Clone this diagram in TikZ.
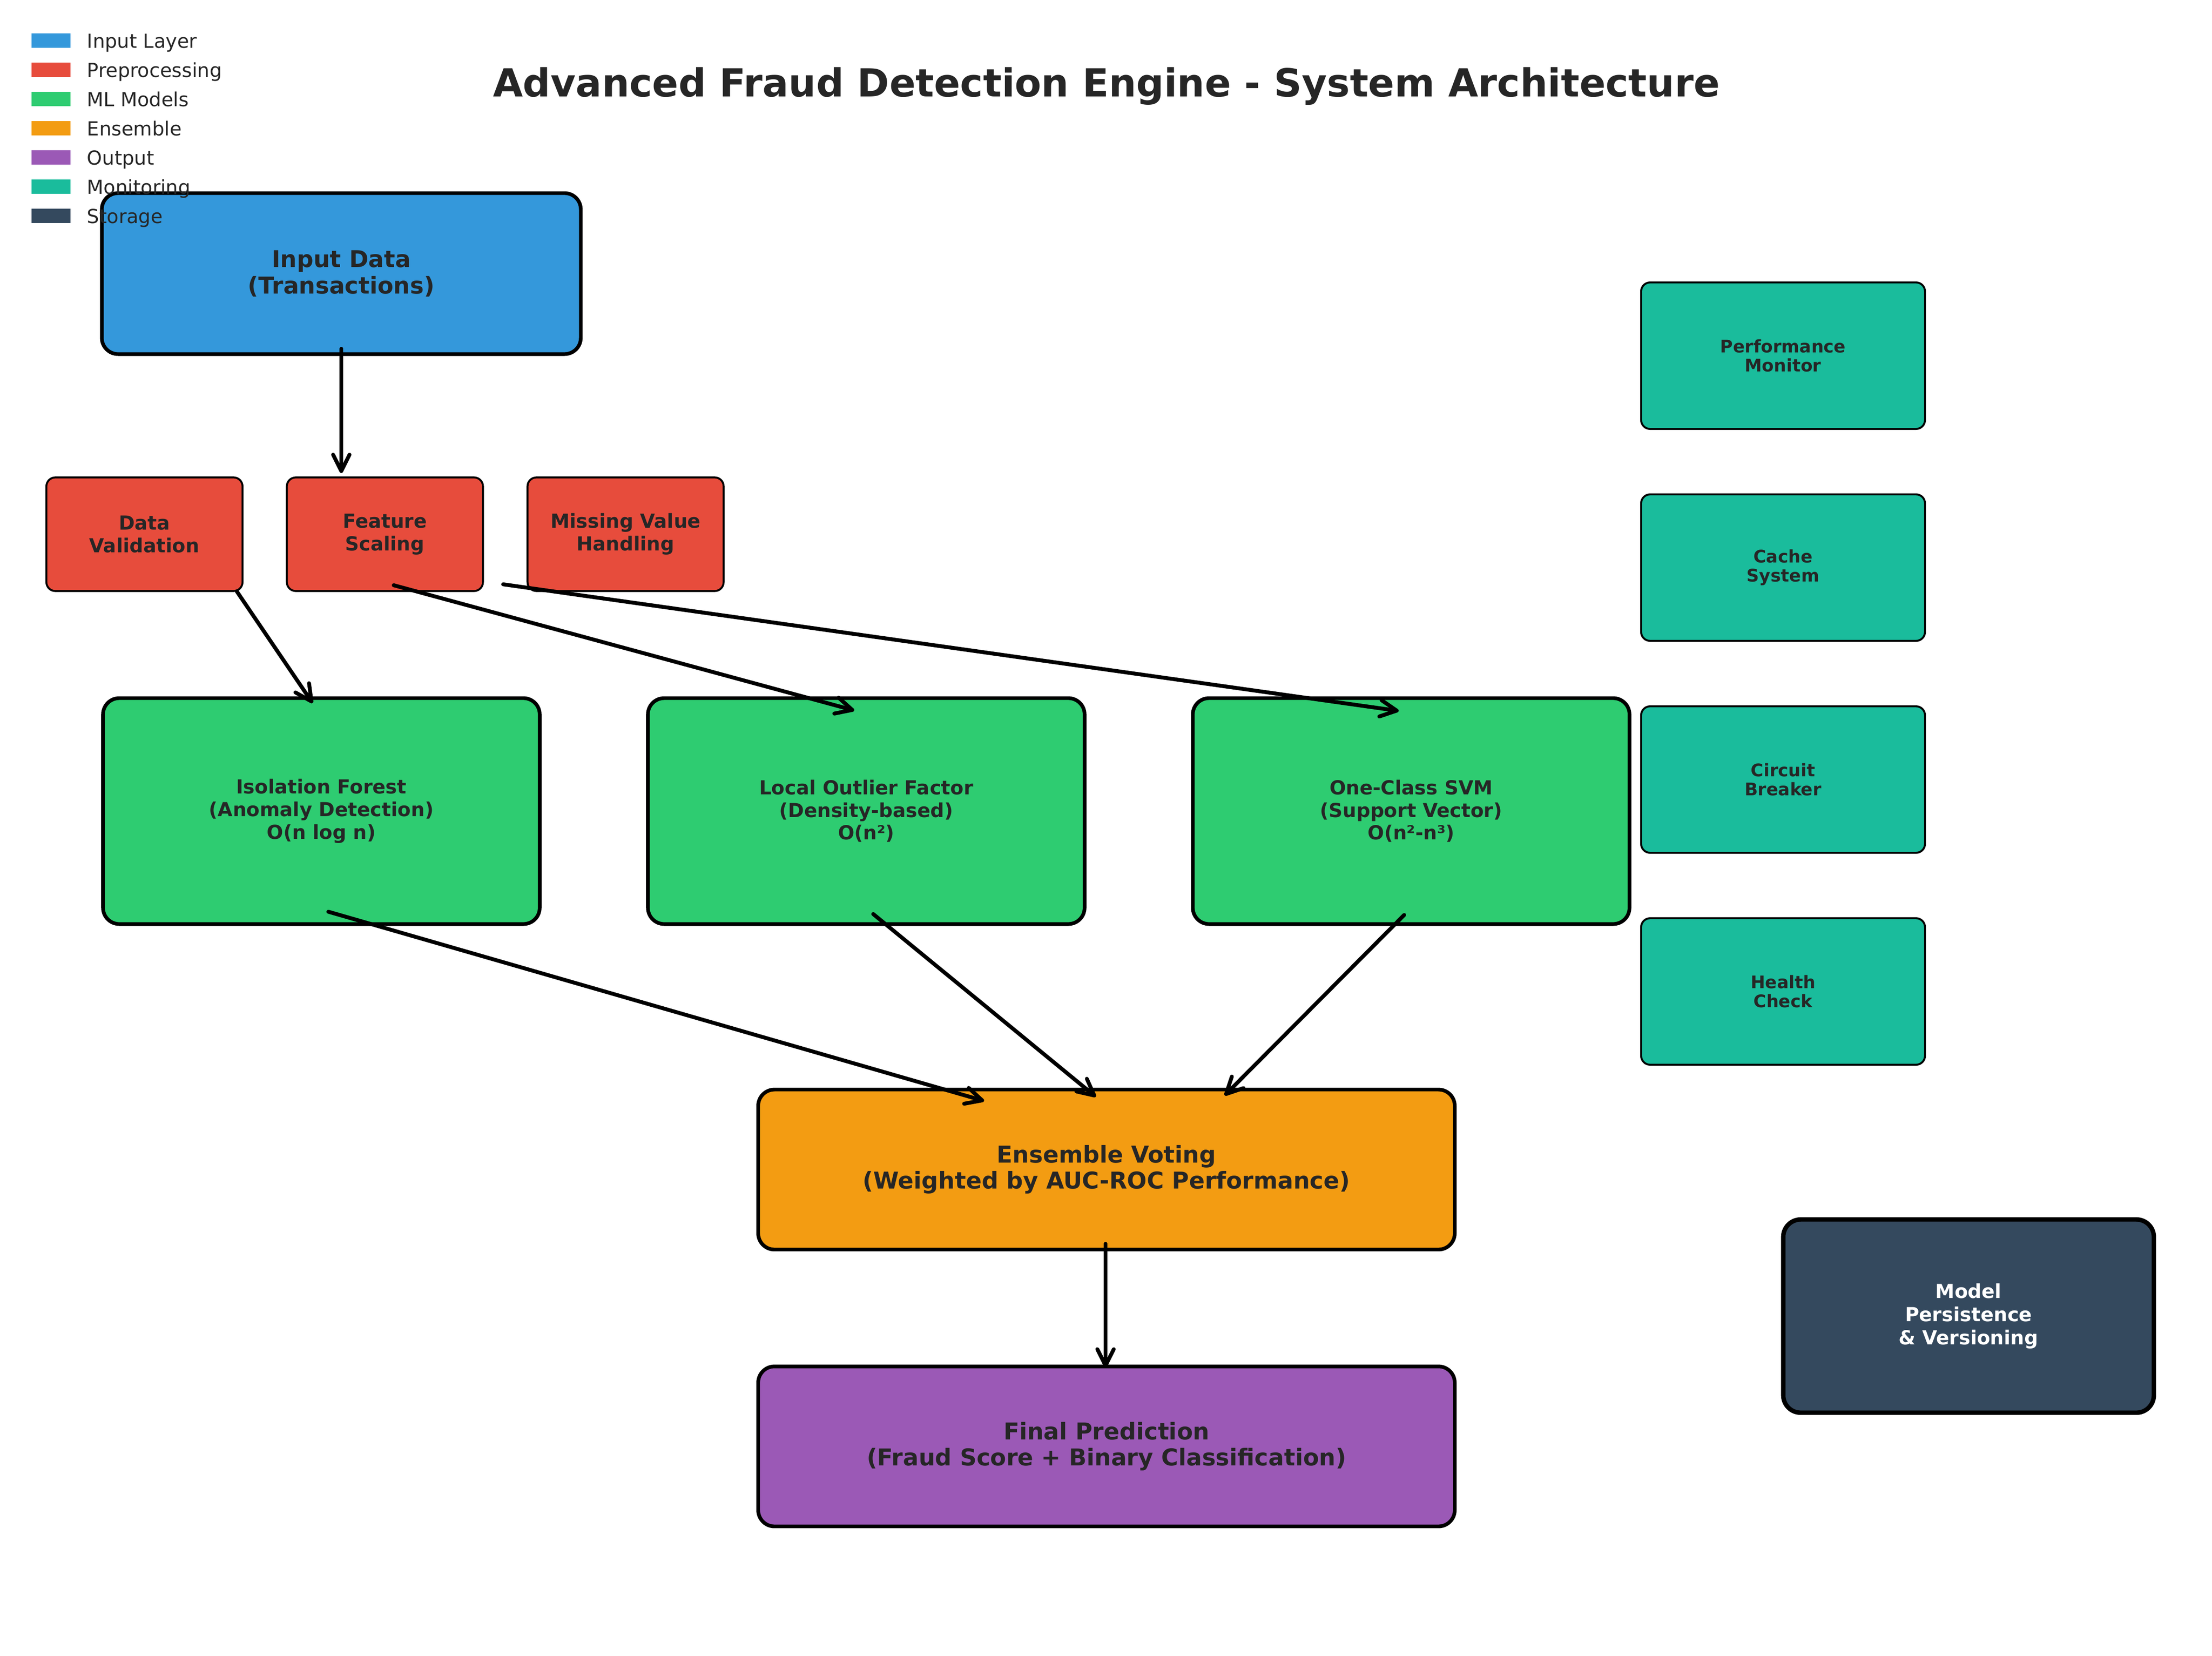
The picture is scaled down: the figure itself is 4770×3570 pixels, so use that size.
\documentclass[tikz,border=0pt]{standalone}
\usepackage{fontspec}
\setmainfont{DejaVu Sans}
\usetikzlibrary{arrows.meta,calc}
\definecolor{cInput}{HTML}{3498DB}
\definecolor{cPre}{HTML}{E74C3C}
\definecolor{cML}{HTML}{2ECC71}
\definecolor{cEns}{HTML}{F39C12}
\definecolor{cOut}{HTML}{9B59B6}
\definecolor{cMon}{HTML}{1ABC9C}
\definecolor{cSto}{HTML}{34495E}
\definecolor{cTxt}{HTML}{262626}
\begin{document}
\begin{tikzpicture}[x=0.24pt,y=-0.24pt,
 box/.style={draw=black, rectangle, inner sep=0pt, outer sep=0pt, align=center, text=cTxt, font=\bfseries\fontsize{10}{11.7}\selectfont},
 bigbox/.style={box, line width=1.9pt, rounded corners=8.4pt},
 smallbox/.style={box, line width=1pt, rounded corners=4.6pt},
 inbox/.style={bigbox, fill=cInput, minimum width=247.9pt, minimum height=83.3pt, font=\bfseries\fontsize{12}{13.5}\selectfont},
 prebox/.style={smallbox, fill=cPre, minimum width=101.5pt, minimum height=58.8pt},
 mlbox/.style={bigbox, fill=cML, minimum width=226pt, minimum height=116.9pt},
 monbox/.style={smallbox, fill=cMon, minimum width=146.9pt, minimum height=75.8pt, font=\bfseries\fontsize{9}{9.9}\selectfont},
 ensbox/.style={bigbox, fill=cEns, minimum width=360.5pt, minimum height=82.8pt, font=\bfseries\fontsize{12}{13.5}\selectfont},
 outbox/.style={ensbox, fill=cOut},
 stobox/.style={box, line width=2.3pt, rounded corners=9pt, fill=cSto, text=white, minimum width=191.8pt, minimum height=100pt, font=\bfseries\fontsize{10}{12}\selectfont},
 flow/.style={line width=2pt, line cap=round, -{Straight Barb[length=8.5pt,width=8.5pt,round]}},
 legpatch/.style={fill=#1, draw=none, rectangle, inner sep=0pt, outer sep=0pt, minimum width=20.2pt, minimum height=7.4pt},
 legtext/.style={anchor=base west, inner sep=0pt, text=cTxt, font=\fontsize{10}{12}\selectfont},
 titletext/.style={anchor=base, inner sep=0pt, text=cTxt, font=\bfseries\fontsize{20}{24}\selectfont},
]
\useasboundingbox (0,0) rectangle (4770,3570);

% title
\node[titletext] (title) at (2386,208) {Advanced Fraud Detection Engine - System Architecture};

% boxes
\node[inbox] (input) at (736,590) {Input Data\\(Transactions)};

\node[prebox] (dv) at (311.5,1152) {Data\\Validation};
\node[prebox] (fs) at (830,1152) {Feature\\Scaling};
\node[prebox] (mv) at (1349,1152) {Missing Value\\Handling};

\node[mlbox] (if) at (693,1749) {Isolation Forest\\(Anomaly Detection)\\O(n log n)};
\node[mlbox] (lof) at (1868,1749) {Local Outlier Factor\\(Density-based)\\O(n²)};
\node[mlbox] (svm) at (3043,1749) {One-Class SVM\\(Support Vector)\\O(n²-n³)};

\node[monbox] (pm) at (3845,767) {Performance\\Monitor};
\node[monbox] (cs) at (3845,1224) {Cache\\System};
\node[monbox] (cb) at (3845,1681) {Circuit\\Breaker};
\node[monbox] (hc) at (3845,2138) {Health\\Check};

\node[ensbox] (ens) at (2386,2522) {Ensemble Voting\\(Weighted by AUC-ROC Performance)};
\node[outbox] (fin) at (2386,3119) {Final Prediction\\(Fraud Score + Binary Classification)};

\node[stobox] (model) at (4245,2838) {Model\\Persistence\\\& Versioning};

% connectors
\draw[flow] ($(input)+(0,162)$) -- ($(fs)+(-94,-132)$);
\draw[flow] ($(dv)+(199,123)$) -- ($(if)+(-19,-233)$);
\draw[flow] ($(fs)+(19,110)$) -- ($(lof)+(-26,-217)$);
\draw[flow] ($(fs)+(255,108)$) -- ($(svm)+(-27,-216)$);
\draw[flow] ($(if)+(15,217)$) -- ($(ens)+(-264,-148)$);
\draw[flow] ($(lof)+(15,222)$) -- ($(ens)+(-23,-157)$);
\draw[flow] ($(svm)+(-15,224)$) -- ($(ens)+(255,-160)$);
\draw[flow] ($(ens)+(-2,160)$) -- ($(fin)+(-2,-170)$);

% legend
\node[legpatch=cInput] (lp1) at (110,87.5) {};
\node[legtext] (lt1) at (187,103) {Input Layer};
\node[legpatch=cPre] (lp2) at (110,150.5) {};
\node[legtext] (lt2) at (187,166) {Preprocessing};
\node[legpatch=cML] (lp3) at (110,213.5) {};
\node[legtext] (lt3) at (187,229) {ML Models};
\node[legpatch=cEns] (lp4) at (110,276.5) {};
\node[legtext] (lt4) at (187,292) {Ensemble};
\node[legpatch=cOut] (lp5) at (110,339.5) {};
\node[legtext] (lt5) at (187,355) {Output};
\node[legpatch=cMon] (lp6) at (110,402.5) {};
\node[legtext] (lt6) at (187,418) {Monitoring};
\node[legpatch=cSto] (lp7) at (110,465.5) {};
\node[legtext] (lt7) at (187,481) {Storage};
\end{tikzpicture}
\end{document}
